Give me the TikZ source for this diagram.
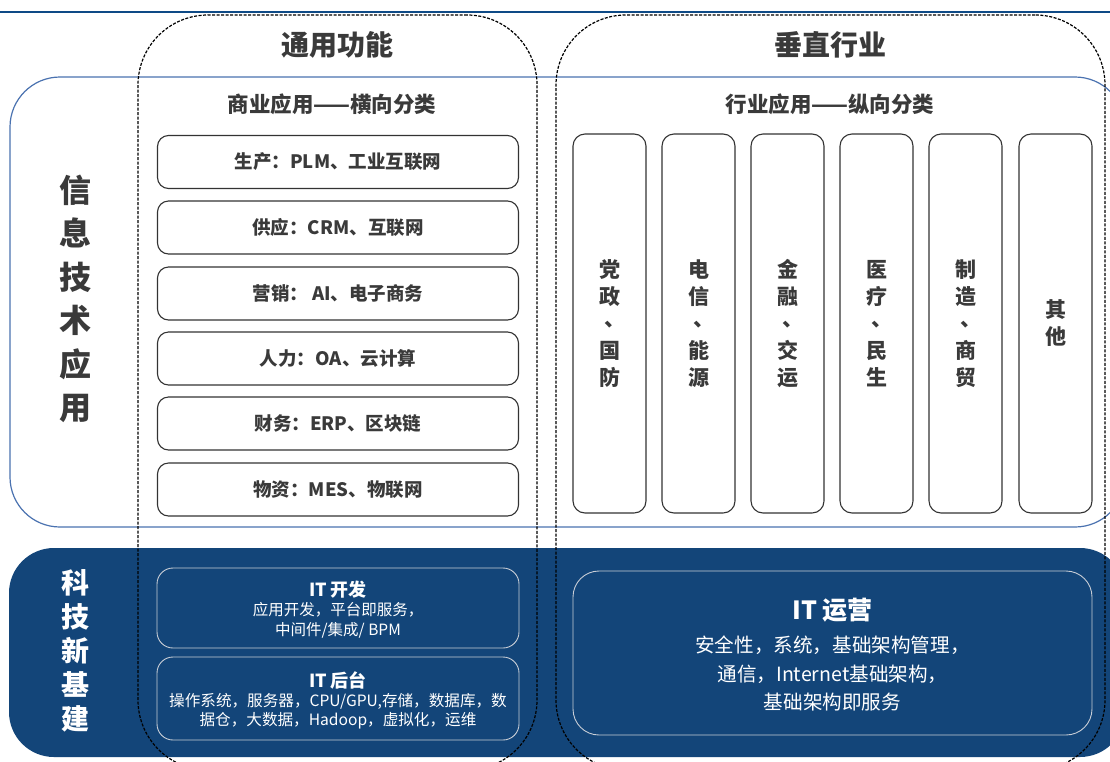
\documentclass[tikz,border=0pt]{standalone}
\usepackage{fontspec}
\setmainfont{Noto Sans CJK SC}
\definecolor{topline}{HTML}{0E4A86}
\definecolor{outblue}{HTML}{4A72B0}
\definecolor{deepblue}{HTML}{134579}
\definecolor{txt}{HTML}{3A3A3A}
\definecolor{lightline}{HTML}{C8CDD6}
\newcommand{\vdun}{\raisebox{0.22em}{\hspace*{0.56em}、}}
\tikzset{
  fs/.style n args={2}{font=\fontsize{#1}{#2}\selectfont},
  hbox/.style={draw=black!80, line width=1.1pt, rounded corners=11pt, minimum width=361pt, minimum height=53pt, inner sep=0pt, text=txt, font=\fontsize{18.5}{22}\selectfont\bfseries},
  vbox/.style={draw=black!80, line width=1.1pt, rounded corners=12pt, minimum width=73pt, minimum height=379pt, inner sep=0pt},
  vtext/.style={align=center, text=txt, font=\fontsize{21}{27}\selectfont\bfseries},
  itbox/.style={draw=lightline, line width=0.9pt, rounded corners=16pt, inner sep=0pt, align=center, text=white},
  dashbox/.style={draw=black, dashed, dash pattern=on 3pt off 1.5pt, line width=1.2pt, rounded corners=70pt, inner sep=0pt},
}
\begin{document}
\begin{tikzpicture}[x=1pt,y=-1pt]
\useasboundingbox (0,0) rectangle (1110,761);
\clip (0,0) rectangle (1110,761);
\fill[white] (0,0) rectangle (1110,761);
\draw[topline, line width=2pt] (0,12) -- (1110,12);

% information-technology band
\node[draw=outblue, line width=1.2pt, rounded corners=50pt, minimum width=1115pt, minimum height=450pt, inner sep=0pt] (infoband) at (567.5,302) {};
% technology infrastructure band
\node[fill=deepblue, rounded corners=45pt, minimum width=1116pt, minimum height=209pt, inner sep=0pt] (techband) at (567,652.5) {};

% left labels
\node[align=center, text=txt, font=\fontsize{32}{43.5}\selectfont\bfseries] (infolabel) at (75,299) {信\\息\\技\\术\\应\\用};
\node[align=center, text=white, font=\fontsize{28}{34}\selectfont\bfseries] (techlabel) at (75,651) {科\\技\\新\\基\\建};

% column titles
\node[text=txt, font=\fontsize{28}{30}\selectfont\bfseries] (gentitle) at (337,45) {通用功能};
\node[text=txt, font=\fontsize{28}{30}\selectfont\bfseries] (verttitle) at (830,45) {垂直行业};
\node[text=txt, font=\fontsize{21.5}{24}\selectfont\bfseries] (bizsub) at (332,104) {商业应用——横向分类};
\node[text=txt, font=\fontsize{21.5}{24}\selectfont\bfseries] (indsub) at (830,104) {行业应用——纵向分类};

% horizontal business boxes
\node[hbox] (b1) at (338,162) {生产：PLM、工业互联网};
\node[hbox] (b2) at (338,227.5) {供应：CRM、互联网};
\node[hbox] (b3) at (338,293.5) {营销： AI、电子商务};
\node[hbox] (b4) at (338,358.5) {人力：OA、云计算};
\node[hbox] (b5) at (338,423.5) {财务：ERP、区块链};
\node[hbox] (b6) at (338,489.5) {物资：MES、物联网};

% vertical industry boxes
\node[vbox] (v1) at (609.5,323.5) {};
\node[vbox] (v2) at (698.5,323.5) {};
\node[vbox] (v3) at (787.5,323.5) {};
\node[vbox] (v4) at (876.5,323.5) {};
\node[vbox] (v5) at (965.5,323.5) {};
\node[vbox] (v6) at (1055.5,323.5) {};
\node[vtext] (t1) at (v1) {党\\政\\\vdun\\国\\防};
\node[vtext] (t2) at (v2) {电\\信\\\vdun\\能\\源};
\node[vtext] (t3) at (v3) {金\\融\\\vdun\\交\\运};
\node[vtext] (t4) at (v4) {医\\疗\\\vdun\\民\\生};
\node[vtext] (t5) at (v5) {制\\造\\\vdun\\商\\贸};
\node[vtext] (t6) at (v6) {其\\他};

% IT boxes
\node[itbox, minimum width=362pt, minimum height=80pt] (itdev) at (338,608) {};
\node[text=white, font=\fontsize{18}{20}\selectfont\bfseries] (itdevt) at (338,590) {IT 开发};
\node[text=white, align=center, fs={15.5}{19.5}] (itdevd) at (338,620.5) {应用开发，平台即服务，\\中间件/集成/ BPM};

\node[itbox, minimum width=362pt, minimum height=83pt] (itback) at (338,698.5) {};
\node[text=white, font=\fontsize{18}{20}\selectfont\bfseries] (itbackt) at (338,680) {IT 后台};
\node[text=white, align=center, fs={15.6}{19}] (itbackd) at (338,711) {操作系统，服务器，CPU/GPU,存储，数据库，数\\据仓，大数据，Hadoop，虚拟化，运维};

\node[itbox, rounded corners=26pt, minimum width=519pt, minimum height=164pt] (itops) at (832.5,653) {};
\node[text=white, font=\fontsize{25}{28}\selectfont\bfseries] (itopst) at (832.5,610) {IT 运营};
\node[text=white, align=center, fs={19.6}{28.5}] (itopsd) at (832.5,673.5) {安全性，系统，基础架构管理，\\通信，Internet基础架构，\\基础架构即服务};

% dashed column frames
\node[dashbox, minimum width=399pt, minimum height=755pt] (genframe) at (337.5,392.5) {};
\node[dashbox, minimum width=549pt, minimum height=755pt] (vertframe) at (830.5,392.5) {};
\end{tikzpicture}
\end{document}
